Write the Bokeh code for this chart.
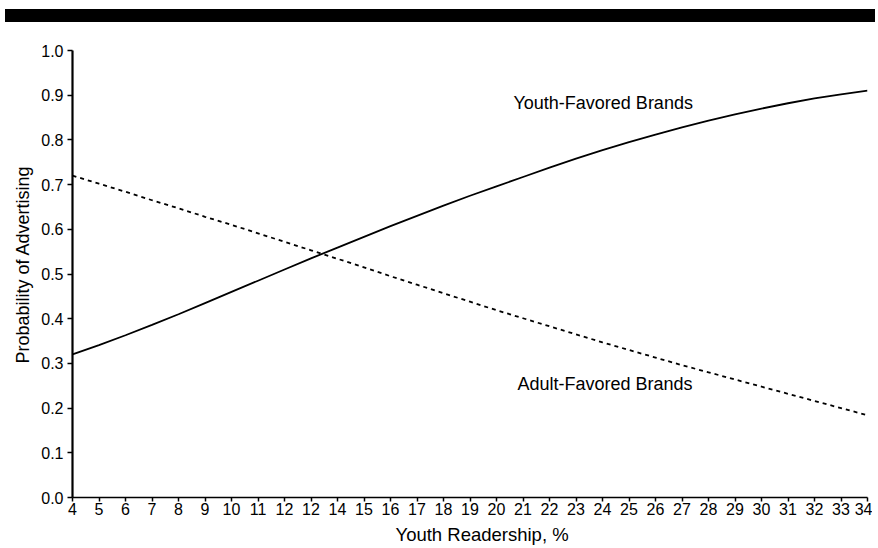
from bokeh.plotting import figure
from bokeh.models import Range1d, FixedTicker, Title, Div, ColumnDataSource
from bokeh.layouts import column
from bokeh.core.properties import value
from bokeh.embed import file_html
from bokeh.resources import INLINE

# ---- data ----
readership = [4, 5, 6, 7, 8, 9, 10, 11, 12, 13, 14, 15, 16, 17, 18, 19,
              20, 21, 22, 23, 24, 25, 26, 27, 28, 29, 30, 31, 32, 33, 34]
youth_favored = [0.320, 0.341, 0.363, 0.386, 0.410, 0.435, 0.460, 0.485, 0.510, 0.535,
                 0.559, 0.583, 0.607, 0.630, 0.653, 0.675, 0.696, 0.717, 0.738, 0.758,
                 0.777, 0.795, 0.812, 0.828, 0.843, 0.857, 0.870, 0.882, 0.893, 0.902, 0.910]
adult_favored = [0.720, 0.702, 0.684, 0.665, 0.647, 0.628, 0.610, 0.591, 0.572, 0.553,
                 0.534, 0.515, 0.495, 0.476, 0.457, 0.438, 0.419, 0.401, 0.383, 0.365,
                 0.347, 0.330, 0.313, 0.296, 0.280, 0.264, 0.248, 0.232, 0.216, 0.200, 0.184]
x_tick_values = readership
x_tick_labels = ["4", "5", "6", "7", "8", "9", "10", "11", "12", "12", "14", "15",
                 "16", "17", "18", "19", "20", "21", "22", "23", "24", "25", "26",
                 "27", "28", "29", "30", "31", "32", "33", "34"]
y_tick_values = [0.0, 0.1, 0.2, 0.3, 0.4, 0.5, 0.6, 0.7, 0.8, 0.9, 1.0]
series_labels = ["Youth-Favored Brands", "Adult-Favored Brands"]
label_x = [20.64, 20.79]
label_y = [0.883, 0.253]

FONT = "Liberation Sans"

p = figure(width=872, height=526, output_backend="svg", toolbar_location=None,
           x_range=Range1d(4, 34), y_range=Range1d(0, 1.0),
           min_border_left=72, min_border_right=5, min_border_top=28, min_border_bottom=51)
p.outline_line_color = None
p.xgrid.visible = False
p.ygrid.visible = False
p.background_fill_color = "white"
p.border_fill_color = "white"

src = ColumnDataSource(dict(x=readership, youth=youth_favored, adult=adult_favored))
p.line("x", "youth", source=src, line_color="black", line_width=1.8)
p.line("x", "adult", source=src, line_color="black", line_width=1.8, line_dash="4 4")

p.text(x=label_x, y=label_y, text=series_labels, text_font=value(FONT),
       text_font_size="18px", text_color="black", text_align="left",
       text_baseline="middle")

# x axis
xa = p.xaxis[0]
xa.ticker = FixedTicker(ticks=x_tick_values)
xa.major_label_overrides = {v: l for v, l in zip(x_tick_values, x_tick_labels)}
xa.minor_tick_line_color = None
xa.major_tick_in = 0
xa.major_tick_out = 4
xa.major_label_standoff = 1
xa.axis_line_width = 1.5
xa.axis_line_color = "black"
xa.major_tick_line_color = "black"
xa.major_tick_line_width = 1.5
xa.major_label_text_font = FONT
xa.major_label_text_font_size = "16px"
xa.major_label_text_color = "black"

# y axis
ya = p.yaxis[0]
ya.ticker = FixedTicker(ticks=y_tick_values)
ya.major_label_overrides = {v: f"{v:.1f}" for v in y_tick_values}
ya.minor_tick_line_color = None
ya.major_tick_in = 0
ya.major_tick_out = 5
ya.major_label_standoff = 4
ya.axis_line_width = 2.2
ya.axis_line_color = "black"
ya.major_tick_line_color = "black"
ya.major_tick_line_width = 1.5
ya.major_label_text_font = FONT
ya.major_label_text_font_size = "16px"
ya.major_label_text_color = "black"

p.add_layout(Title(text="Youth Readership, %", align="left", offset=323, standoff=8,
                   text_font=FONT, text_font_size="18.5px", text_font_style="normal",
                   text_color="black"), "below")
p.add_layout(Title(text="Probability of Advertising", align="left", offset=134, standoff=12,
                   text_font=FONT, text_font_size="18px", text_font_style="normal",
                   text_color="black"), "left")

bar = Div(text="", width=870, height=13, margin=(9, 0, 0, 5),
          styles={"background-color": "black"})

layout = column(bar, p, spacing=0)
open("out.html", "w").write(file_html(layout, INLINE))
